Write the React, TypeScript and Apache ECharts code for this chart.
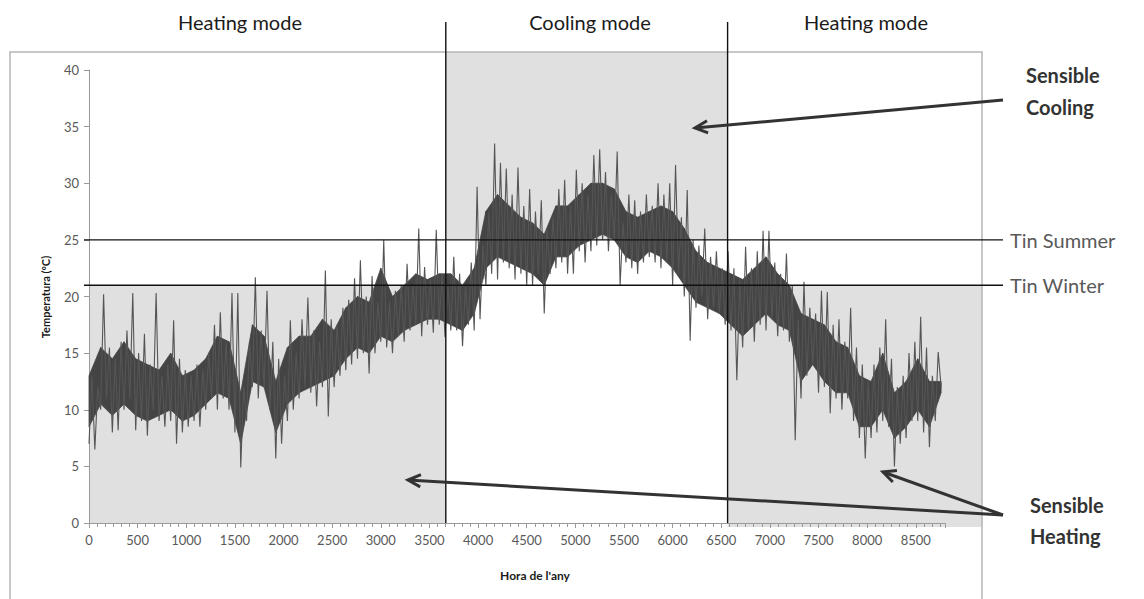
import React, { useEffect, useRef } from "react";
import * as echarts from "echarts";

// Hourly extremes: one low/high pair per 60-hour block
const STEP_HOURS = 60;
const lowTemps = [
  7, 6.5, 10, 11, 8, 8.2, 10, 11, 8.2, 9,
  7.7, 10, 9, 8.5, 9, 7, 8, 8.5, 9, 8.5,
  10, 11, 10, 11, 10, 8, 4.9, 9, 12, 11,
  12, 10, 5.7, 7, 9, 10, 11, 12, 11.5, 10.3,
  12, 9.4, 12, 13, 13.5, 14, 14.5, 15, 13.2, 15,
  16, 15.5, 15, 16.5, 16, 17, 17.5, 16.5, 17.5, 16.8,
  17.5, 16.4, 17, 17, 15.6, 17.5, 17, 18, 21, 22,
  21.5, 23, 22.5, 21.5, 22, 21, 21, 22, 18.5, 22,
  22.5, 23, 22, 22, 24, 23, 24, 24.5, 25, 24,
  25, 21, 23, 22.5, 22, 23, 23.5, 23, 22.5, 23,
  21, 22, 20, 16.1, 19, 20, 18, 19, 18.5, 17.5,
  17, 12.6, 15.5, 17, 16, 17.5, 17, 18, 16.5, 17,
  16, 7.3, 11, 13, 14, 11.5, 12, 9.7, 11, 10,
  11, 9, 7.5, 5.7, 7.5, 8, 9, 8.5, 5, 7,
  7.5, 9, 9, 8, 6.7, 9,
];
const highTemps = [
  13, 12, 20.2, 15.5, 14.5, 16, 17, 20.3, 15, 16.7,
  14, 20.3, 13, 14, 17.9, 14.5, 13.5, 13, 14, 13.5,
  15, 17.5, 18.6, 16, 20.3, 20.3, 12, 16, 21.7, 17,
  20.5, 16, 14.5, 13, 17.9, 15, 18, 19.9, 17, 16,
  22.3, 18, 17.5, 19, 19.7, 21.6, 23.2, 20, 21.8, 19.5,
  25, 19.5, 20.5, 21, 22.9, 21, 26, 22.6, 21.5, 25.9,
  22, 21, 23.5, 22, 21, 23, 29.7, 24.5, 27.5, 33.5,
  31.8, 31.3, 29, 31.4, 28, 29.5, 27.5, 28.5, 26, 27,
  29.5, 30.3, 28, 31.2, 30, 29, 32.5, 33, 31, 29,
  32.8, 26.5, 29, 28.5, 27.5, 29, 28, 30, 29, 30,
  31.6, 27, 29.4, 25, 24.5, 26, 23.5, 24, 22.5, 24,
  22.5, 21.5, 24.4, 22.5, 24, 25.8, 25.8, 23, 22, 23.8,
  21, 18, 21.3, 19, 18.5, 20.5, 20.4, 17.5, 18, 16,
  19, 15.5, 14, 12.5, 14, 15.5, 18, 14.5, 12, 13,
  15, 16, 18.2, 15.5, 13, 15.1,
];
const LAST_HOUR = 8760;
const LAST_TEMP = 12;

// Dense core of the daily swing, one pair per 120-hour block
const CORE_STEP_HOURS = 120;
const coreLow = [
  8.5, 10.5, 9.5, 10.5, 9.5, 9, 9.5, 10, 9, 9.5,
  10.5, 11.5, 11, 7, 12.5, 12, 8, 10.5, 11.5, 12,
  12.5, 13, 14.5, 15.5, 15, 16.5, 16, 17, 17.5, 18,
  18, 17.5, 17, 18.5, 22.5, 23.5, 23, 22.5, 22, 21,
  23.5, 23.5, 24.5, 25, 25.5, 25, 23.5, 23, 24, 23.5,
  22.5, 21, 19.5, 19, 18.5, 17.5, 16.5, 17.5, 18.5, 17.5,
  17, 12.5, 14, 12.5, 11.5, 11.5, 8.5, 8.5, 10, 7.5,
  8.5, 10, 8.5, 11.5,
];
const coreHigh = [
  13, 15.5, 14.5, 16, 14.5, 14, 13.5, 15, 13, 13.5,
  14.5, 16.5, 16, 11.5, 17.5, 16.5, 12.5, 15.5, 16.5, 16.5,
  18, 17, 19, 20, 19.5, 22.5, 20, 21, 22, 21.5,
  22, 22, 21, 22.5, 27.5, 29, 28, 27, 26.5, 25.5,
  28, 28, 29, 30, 30, 29.5, 27.5, 27, 27.5, 28,
  27.5, 26, 24, 23, 22.5, 22, 21.5, 22.5, 23.5, 22,
  21, 18.5, 18, 17.5, 16, 15.5, 13, 12.5, 15, 11.5,
  12.5, 14.5, 12.5, 12.5,
];

const TIN_SUMMER = 25;
const TIN_WINTER = 21;
const COOLING_START = 3668;
const COOLING_END = 6565;

const xTickLabels = [0, 500, 1000, 1500, 2000, 2500, 3000, 3500, 4000, 4500, 5000, 5500, 6000, 6500, 7000, 7500, 8000, 8500];

const FONT = "Lato, 'Open Sans', sans-serif";

export default function App() {
  const ref = useRef<HTMLDivElement>(null);
  useEffect(() => {
    if (!ref.current) return;
    const chart = echarts.init(ref.current, undefined, { renderer: "svg" });
    const data: number[][] = [];
    lowTemps.forEach((lo, i) => {
      data.push([i * STEP_HOURS, lo]);
      data.push([i * STEP_HOURS + STEP_HOURS / 2, highTemps[i]]);
    });
    data.push([LAST_HOUR, LAST_TEMP]);

    // core band segments: [h1, lo1, hi1, h2, lo2, hi2]
    const coreSegments: number[][] = [];
    for (let k = 0; k < coreLow.length - 1; k++) {
      const h1 = Math.min(k * CORE_STEP_HOURS, LAST_HOUR);
      const h2 = Math.min((k + 1) * CORE_STEP_HOURS, LAST_HOUR);
      coreSegments.push([h1, coreLow[k], coreHigh[k], h2, coreLow[k + 1], coreHigh[k + 1]]);
    }

    chart.setOption({
      animation: false,
      backgroundColor: "#ffffff",
      grid: { left: 89, right: 199, top: 70, bottom: 76, containLabel: false },
      xAxis: {
        type: "value",
        min: 0,
        max: 8800,
        interval: 500,
        axisLine: { show: true, onZero: false, lineStyle: { color: "#9a9a9a", width: 1 } },
        axisTick: { show: true, length: 5, lineStyle: { color: "#9a9a9a" } },
        minorTick: { show: true, splitNumber: 6, length: 4, lineStyle: { color: "#9a9a9a" } },
        splitLine: { show: false },
        axisLabel: {
          color: "#595959",
          fontSize: 13,
          fontFamily: FONT,
          margin: 10,
          showMaxLabel: false,
          formatter: (v: number) => (xTickLabels.includes(v) ? String(v) : ""),
        },
      },
      yAxis: {
        type: "value",
        min: 0,
        max: 40,
        interval: 5,
        axisLine: { show: true, lineStyle: { color: "#9a9a9a", width: 1 } },
        axisTick: { show: true, length: 5, lineStyle: { color: "#9a9a9a" } },
        splitLine: { show: false },
        axisLabel: { color: "#595959", fontSize: 13, fontFamily: FONT, margin: 10 },
      },
      series: [
        {
          type: "custom",
          z: 5,
          silent: true,
          data: coreSegments,
          encode: { x: [0, 3], y: [1, 2, 4, 5] },
          renderItem: (params: any, api: any) => {
            const a1 = api.coord([api.value(0), api.value(1)]);
            const b1 = api.coord([api.value(0), api.value(2)]);
            const a2 = api.coord([api.value(3), api.value(4)]);
            const b2 = api.coord([api.value(3), api.value(5)]);
            return {
              type: "polygon",
              shape: { points: [a1, b1, b2, a2] },
              style: { fill: "#444444", stroke: "#444444", lineWidth: 0.8 },
            };
          },
        },
        {
          type: "line",
          data,
          symbol: "none",
          z: 6,
          lineStyle: { color: "#555555", width: 1.1 },
        },
      ],
    });

    const px = (x: number, y: number) => chart.convertToPixel({ xAxisIndex: 0, yAxisIndex: 0 }, [x, y]) as number[];
    const x0 = px(0, 0)[0];
    const xc1 = px(COOLING_START, 0)[0];
    const xc2 = px(COOLING_END, 0)[0];
    const y0 = px(0, 0)[1];
    const yS = px(0, TIN_SUMMER)[1];
    const yW = px(0, TIN_WINTER)[1];
    const frameL = 10, frameT = 52, frameR = 982;
    const gray = "#e0e0e0";

    const arrow = (x1: number, y1: number, x2: number, y2: number) => {
      const ang = Math.atan2(y1 - y2, x1 - x2);
      const L = 14, a = 0.45;
      return [
        { type: "line", z: 20, shape: { x1, y1, x2, y2 }, style: { stroke: "#333", lineWidth: 3 } },
        {
          type: "polyline",
          z: 20,
          shape: {
            points: [
              [x2 + L * Math.cos(ang + a), y2 + L * Math.sin(ang + a)],
              [x2, y2],
              [x2 + L * Math.cos(ang - a), y2 + L * Math.sin(ang - a)],
            ],
          },
          style: { stroke: "#333", lineWidth: 3, fill: null },
        },
      ];
    };

    const title = (text: string, x: number) => ({
      type: "text",
      z: 20,
      x,
      y: 22,
      style: { text, fontSize: 20, fontFamily: FONT, fill: "#1a1a1a", align: "center", verticalAlign: "middle" },
    });

    chart.setOption({
      graphic: [
        { type: "rect", z: -1, shape: { x: x0, y: yW, width: xc1 - x0, height: y0 - yW }, style: { fill: gray } },
        { type: "rect", z: -1, shape: { x: xc1, y: frameT, width: xc2 - xc1, height: yS - frameT }, style: { fill: gray } },
        { type: "rect", z: -1, shape: { x: xc2, y: yW, width: frameR - xc2, height: y0 + 4 - yW }, style: { fill: gray } },
        {
          type: "polyline",
          z: 0,
          shape: { points: [[frameL, 600], [frameL, frameT], [frameR, frameT], [frameR, 600]] },
          style: { stroke: "#b5b5b5", lineWidth: 1.5, fill: null },
        },
        { type: "line", z: 15, shape: { x1: x0 - 5, y1: yS, x2: 1003, y2: yS }, style: { stroke: "#111", lineWidth: 1.4 } },
        { type: "line", z: 15, shape: { x1: x0 - 5, y1: yW, x2: 1003, y2: yW }, style: { stroke: "#111", lineWidth: 1.4 } },
        { type: "line", z: 15, shape: { x1: xc1, y1: 22, x2: xc1, y2: y0 }, style: { stroke: "#111", lineWidth: 1.4 } },
        { type: "line", z: 15, shape: { x1: xc2, y1: 22, x2: xc2, y2: y0 }, style: { stroke: "#111", lineWidth: 1.4 } },
        title("Heating mode", 240),
        title("Cooling mode", 590),
        title("Heating mode", 866),
        {
          type: "text", z: 20, x: 1010, y: yS,
          style: { text: "Tin Summer", fontSize: 20, fontFamily: FONT, fill: "#595959", verticalAlign: "middle" },
        },
        {
          type: "text", z: 20, x: 1010, y: yW,
          style: { text: "Tin Winter", fontSize: 20, fontFamily: FONT, fill: "#595959", verticalAlign: "middle" },
        },
        {
          type: "text", z: 20, x: 1026, y: 91,
          style: { text: "Sensible\nCooling", fontSize: 20, fontWeight: "bold", lineHeight: 32, fontFamily: FONT, fill: "#333", verticalAlign: "middle" },
        },
        {
          type: "text", z: 20, x: 1030, y: 520,
          style: { text: "Sensible\nHeating", fontSize: 20, fontWeight: "bold", lineHeight: 31, fontFamily: FONT, fill: "#333", verticalAlign: "middle" },
        },
        ...arrow(1003, 100, 695, 128),
        ...arrow(1003, 515, 408, 480),
        ...arrow(1003, 515, 883, 472),
        {
          type: "text", z: 20, x: 45, y: 297, rotation: Math.PI / 2,
          style: { text: "Temperatura (ºC)", fontSize: 11, fontWeight: "bold", fontFamily: FONT, fill: "#1a1a1a", align: "center", verticalAlign: "middle" },
        },
        {
          type: "text", z: 20, x: 535, y: 575,
          style: { text: "Hora de l'any", fontSize: 12, fontWeight: "bold", fontFamily: FONT, fill: "#1a1a1a", align: "center", verticalAlign: "middle" },
        },
      ],
    });

    return () => chart.dispose();
  }, []);
  return <div ref={ref} style={{ width: 1144, height: 599, position: "absolute", left: 0, top: 0 }} />;
}
